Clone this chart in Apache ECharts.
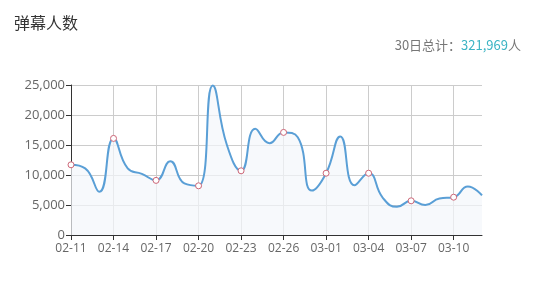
<!DOCTYPE html>
<html><head><meta charset="utf-8">
<script src="https://cdn.jsdelivr.net/npm/echarts@6/dist/echarts.min.js"></script>
<style>html,body{margin:0;padding:0;background:#fff}#c{width:533px;height:283px}</style>
</head><body><div id="c"></div>
<script>
const dates = ["02-11","02-12","02-13","02-14","02-15","02-16","02-17","02-18","02-19","02-20","02-21","02-22","02-23","02-24","02-25","02-26","02-27","02-28","03-01","03-02","03-03","03-04","03-05","03-06","03-07","03-08","03-09","03-10","03-11","03-12"];
const viewers = [11700,11100,7200,16100,11100,10200,9100,12300,8600,8200,24900,15000,10700,17700,15300,17100,16300,7400,10300,16400,8300,10300,6200,4700,5700,5000,6100,6300,8100,6600];
const yTicks = [0,5000,10000,15000,20000,25000];
const titleText = "弹幕人数";
const totalText = "321,969";

const chart = echarts.init(document.getElementById('c'));
chart.setOption({
  animation:false,
  title:[{text:titleText,left:9,top:10,textStyle:{fontSize:16,fontWeight:'normal',color:'#333',fontFamily:'"Noto Sans CJK SC",sans-serif'}},
    {text:'{g|30日总计：}{t|'+totalText+'}{g|人}',right:7,top:34,textStyle:{fontWeight:'normal',rich:{g:{fontSize:13,fontWeight:'normal',color:'#777',fontFamily:'"Noto Sans CJK SC",sans-serif'},t:{fontSize:13,fontWeight:'normal',color:'#3bb4c4',fontFamily:'"Noto Sans CJK SC",sans-serif'}}}}],
  grid:{left:71,right:51,top:85,bottom:48},
  xAxis:{type:'category',data:dates,boundaryGap:false,
    axisLine:{lineStyle:{color:'#333'}},
    axisTick:{interval:2,lineStyle:{color:'#333'}},
    axisLabel:{interval:2,color:'#666',fontSize:12,margin:8,fontFamily:'"Open Sans",sans-serif'},
    splitLine:{show:true,interval:2,lineStyle:{color:'#ccc'}}},
  yAxis:{type:'value',min:0,max:25000,interval:5000,
    axisLine:{show:true,lineStyle:{color:'#333'}},
    axisTick:{show:true,lineStyle:{color:'#333'}},
    axisLabel:{color:'#666',fontSize:13,margin:6,fontFamily:'"Open Sans",sans-serif',
      formatter:v=>yTicks.includes(v)?v.toLocaleString('en-US'):''},
    splitLine:{lineStyle:{color:'#ccc'}}},
  series:[{type:'line',smooth:true,
    data:viewers.map((v,i)=>({value:v,symbolSize:i%3===0?6:0})),
    symbol:'circle',showAllSymbol:true,
    itemStyle:{color:'#fff',borderColor:'#cc6677',borderWidth:1},
    lineStyle:{color:'#5a9fd6',width:2},
    areaStyle:{color:'#f3f7fb'}}]
});
</script></body></html>
